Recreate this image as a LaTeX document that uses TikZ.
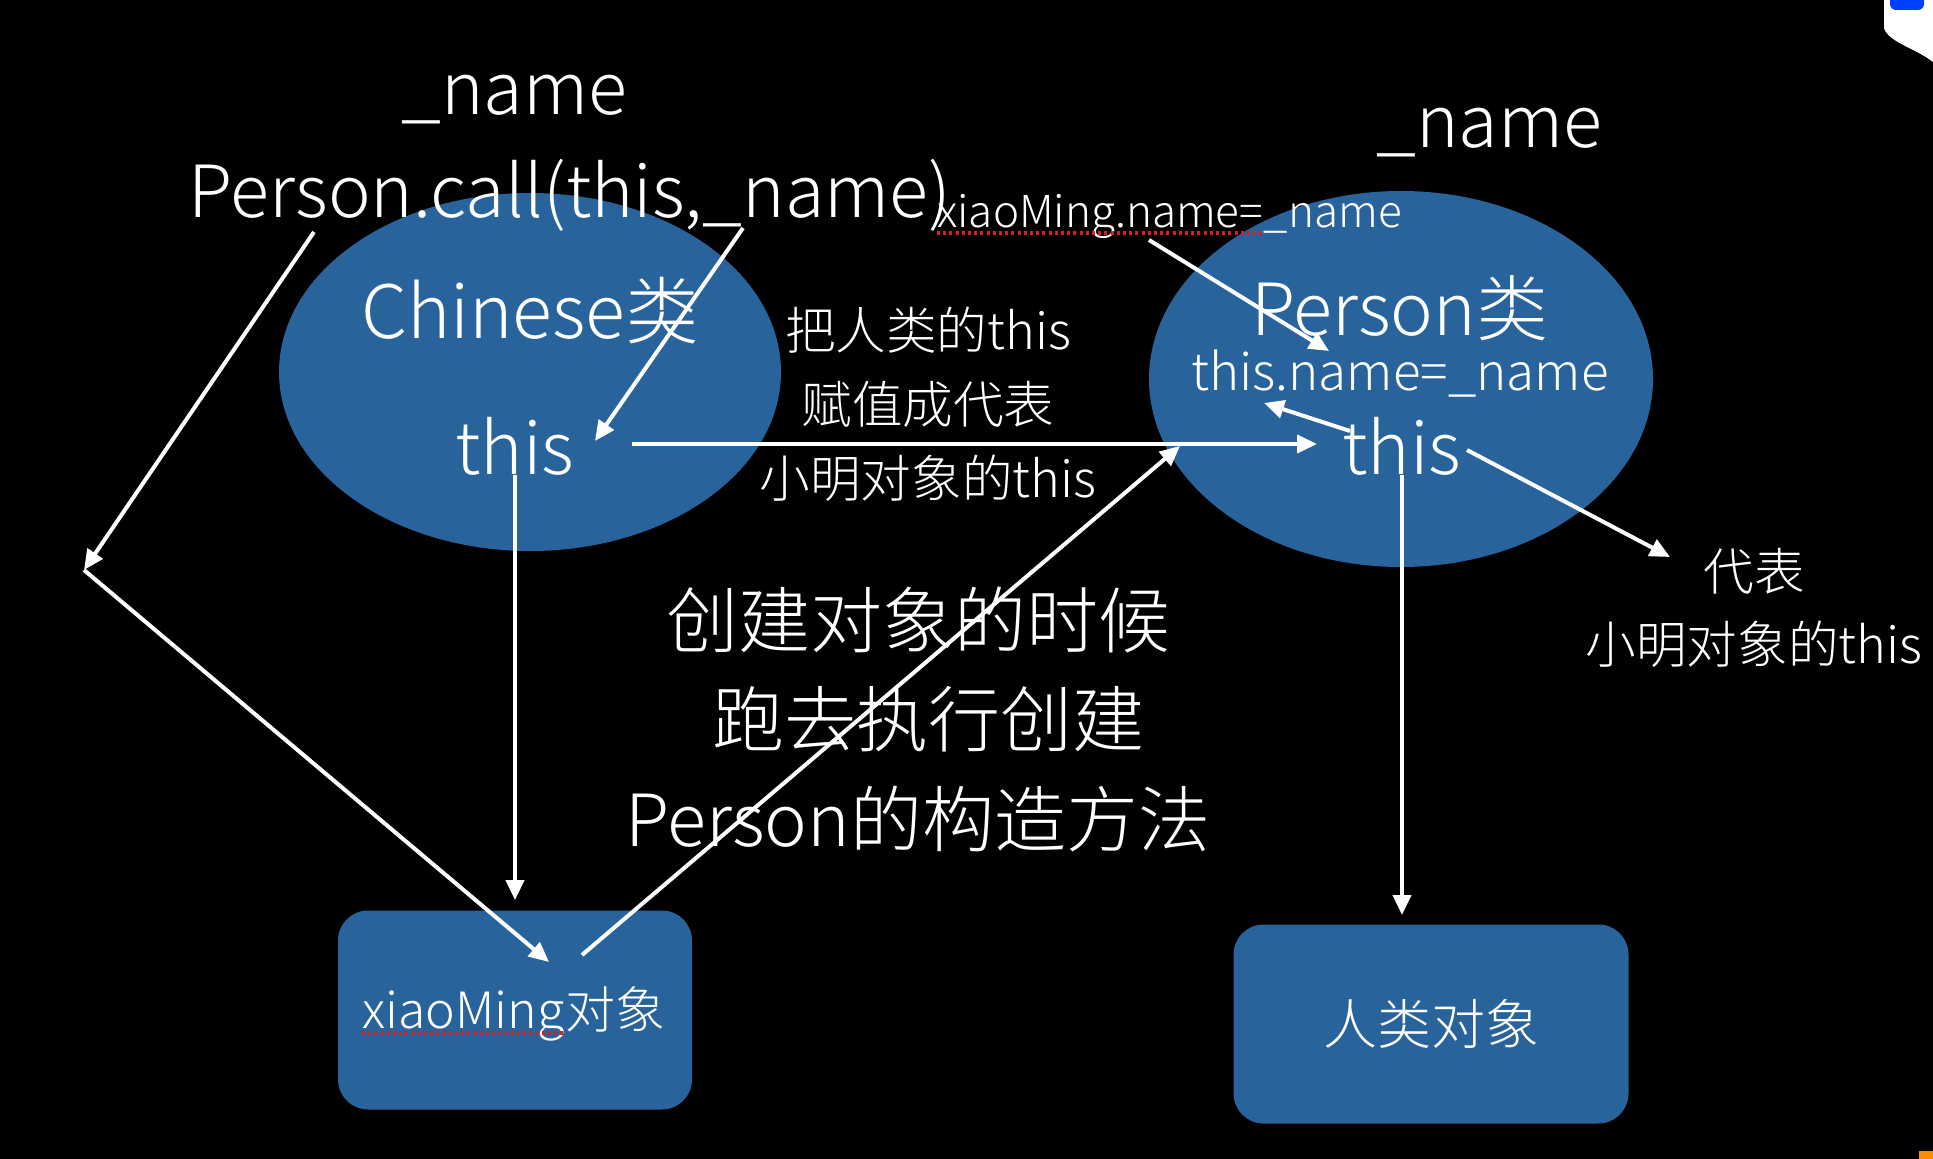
\documentclass[tikz,border=0pt]{standalone}
\usepackage{fontspec}
\IfFontExistsTF{Noto Sans CJK SC Light}
  {\setmainfont{Noto Sans CJK SC Light}}
  {\setmainfont{Noto Sans CJK SC}}
\usetikzlibrary{positioning,shapes.geometric,arrows.meta}
\definecolor{slideblue}{RGB}{40,100,155}
\definecolor{squigred}{RGB}{215,30,40}
\tikzset{
  every node/.style={text=white, inner sep=0pt},
  bigtext/.style={font=\fontsize{36}{40}\selectfont},
  midtext/.style={font=\fontsize{25.3}{30}\selectfont},
  smalltext/.style={font=\fontsize{22}{24}\selectfont},
  blob/.style={ellipse, fill=slideblue},
  objbox/.style={rectangle, rounded corners=15pt, fill=slideblue},
  link/.style={draw=white, line width=2pt, -{Triangle[length=10pt,width=9pt]}},
  squiggle/.style={draw=squigred, line width=1.8pt, dash pattern=on 1.5pt off 1.6pt}
}

\begin{document}
\begin{tikzpicture}[x=0.5pt,y=-0.5pt]
  \fill[black] (0,0) rectangle (1933,1159);
  \useasboundingbox (0,0) rectangle (1933,1159);
  % corner bits of the screen
  \fill[white] (1884,0) -- (1884,28) .. controls (1888,42) and (1915,48) .. (1933,62) -- (1933,0) -- cycle;
  \fill[blue!75!cyan, rounded corners=3pt] (1890,-6) rectangle (1924,10);
  \fill[orange!90!yellow] (1919,1151) rectangle (1933,1159);

  % the two classes
  \node[blob, minimum width=251pt, minimum height=179pt] (chnblob) at (530,372) {};
  \node[blob, minimum width=252pt, minimum height=188pt] (perblob) at (1401,379) {};
  \node[bigtext, font=\fontsize{36.8}{40}\selectfont] (chn) at (530,311) {Chinese类};
  \node[bigtext] (thisL) at (515,446) {this};
  \node[bigtext] (per) at (1400,308) {Person类};
  \node[font=\fontsize{25.6}{30}\selectfont] (perset) at (1400,374) {this.name=\_name};
  \node[bigtext] (thisR) at (1402,446) {this};

  % the two objects
  \node[objbox, minimum width=177pt, minimum height=99.5pt] (xmbox) at (515,1010) {};
  \node[objbox, minimum width=197.5pt, minimum height=99.5pt, font=\fontsize{27}{30}\selectfont] (humanbox) at (1431,1024) {人类对象};
  \node[font=\fontsize{25}{28}\selectfont, anchor=base west] (xmword) at (362,1028) {xiaoMing};
  \node[font=\fontsize{25}{28}\selectfont, anchor=base west] (xmtail) at (xmword.base east) {对象};
  \draw[squiggle] ([yshift=-2.5pt]xmword.base west) -- ([yshift=-2.5pt]xmword.base east);

  % labels
  \node[bigtext] (nameL) at (514,100) {\_name};
  \node[bigtext] (call) at (570,195) {Person.call(this,\_name)};
  \node[bigtext] (nameR) at (1489,133) {\_name};
  \node[smalltext, anchor=base west] (assign) at (937,228) {xiaoMing.name=};
  \node[smalltext, anchor=base west] (assigntail) at (assign.base east) {\_name};
  \draw[squiggle] ([yshift=-2.5pt]assign.base west) -- ([yshift=-2.5pt]assign.base east);

  \node[midtext] (give1) at (928,330) {把人类的this};
  \node[midtext, on grid, below=37pt of give1] (give2) {赋值成代表};
  \node[midtext, on grid, below=37pt of give2] (give3) {小明对象的this};

  \node[midtext] (rep1) at (1754,571) {代表};
  \node[midtext, on grid, below=36.5pt of rep1] (rep2) {小明对象的this};

  \node[bigtext] (make1) at (918,620) {创建对象的时候};
  \node[bigtext, on grid, below=49.5pt of make1, xshift=5pt] (make2) {跑去执行创建};
  \node[bigtext, on grid, below=50pt of make2, xshift=-5pt] (make3) {Person的构造方法};

  % connectors
  \coordinate (callout) at (314,232);
  \coordinate (bend) at (84,570);
  \coordinate (xmin) at (549,962);
  \coordinate (nameout) at (743,228);
  \coordinate (thisLin) at (595,441);
  \coordinate (thisLout) at (632,444);
  \coordinate (thisRin) at (1317,444);
  \coordinate (xmout) at (582,955);
  \coordinate (perin) at (1180,446);
  \coordinate (assignout) at (1149,240);
  \coordinate (persetin) at (1329,351);
  \coordinate (thisRup) at (1350,431);
  \coordinate (persetlow) at (1264,403);
  \coordinate (thisRright) at (1467,450);
  \coordinate (repin) at (1670,557);
  \coordinate (humanin) at (1402,915);

  \draw[link] (callout) -- (bend);
  \draw[link] (bend) -- (xmin);
  \draw[link] (nameout) -- (thisLin);
  \draw[link] (thisLout) -- (thisRin);
  \draw[link] (thisL.south) -- ([yshift=5pt]xmbox.north);
  \draw[link] (xmout) -- (perin);
  \draw[link] (assignout) -- (persetin);
  \draw[link] (thisRup) -- (persetlow);
  \draw[link] (thisRright) -- (repin);
  \draw[link] (thisR.south) -- (humanin);
\end{tikzpicture}
\end{document}
